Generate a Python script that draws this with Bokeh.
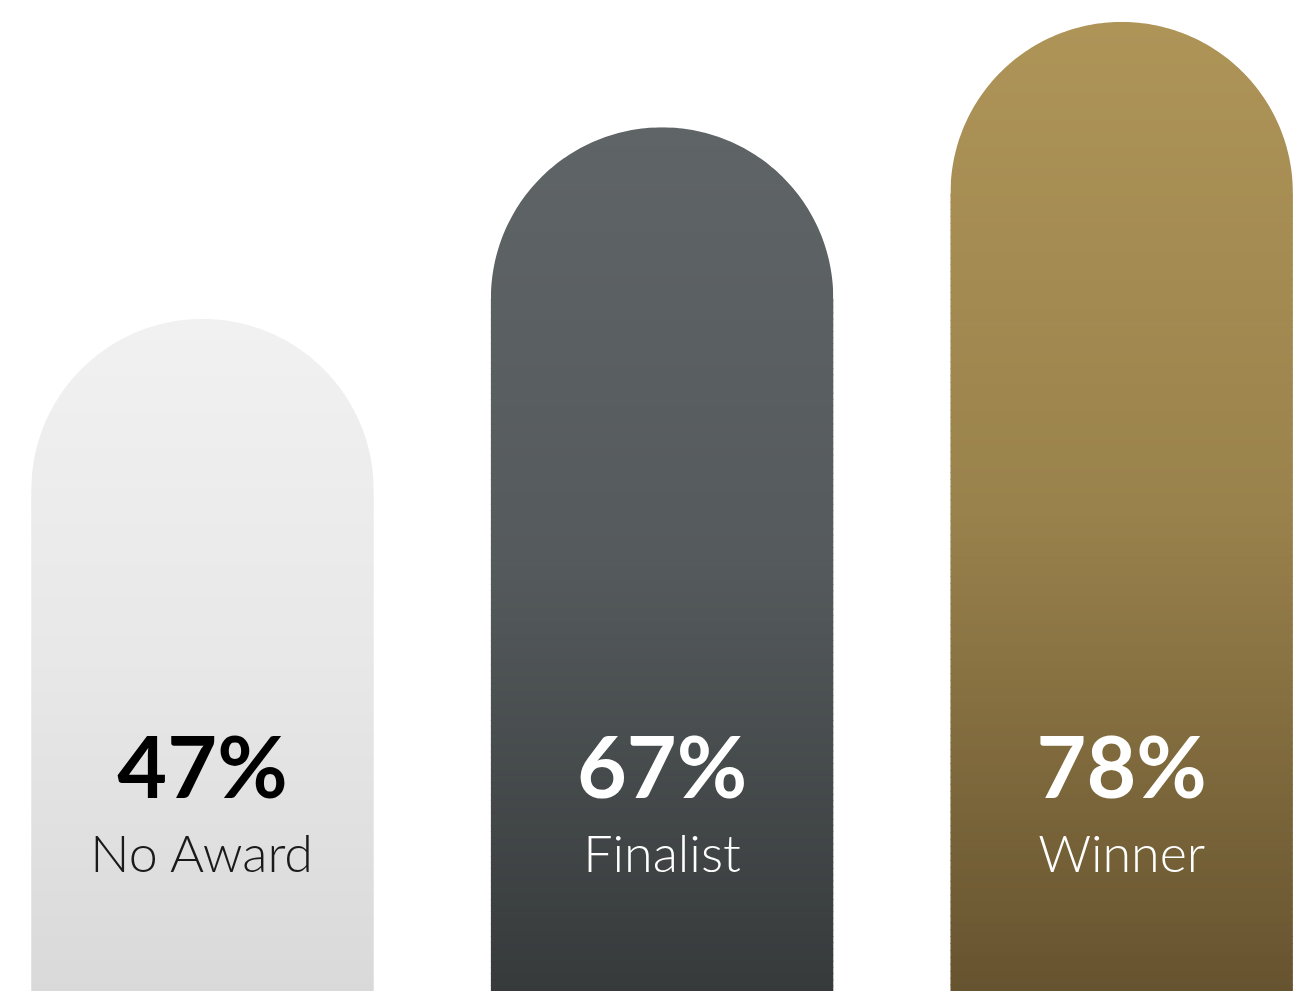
import numpy as np
from bokeh.plotting import figure
from bokeh.models import Range1d, Label, ColumnDataSource
from bokeh.embed import file_html
from bokeh.resources import INLINE

# ---- data ----
categories = ["No Award", "Finalist", "Winner"]
percent = [47, 67, 78]
pct_labels = ["47%", "67%", "78%"]

# ---- style ----
top_colors = ["#F1F1F1", "#5F6466", "#AE9457"]
mid_colors = ["#E8E8E8", "#555A5C", "#9A824C"]
bottom_colors = ["#D9D9D9", "#363A3B", "#66532F"]
pct_colors = ["#000000", "#FFFFFF", "#FFFFFF"]
name_colors = ["#1A1A1A", "#FFFFFF", "#FFFFFF"]

W, H = 1299, 991
X0, X1 = -0.4395, 2.3869
Y0, Y1 = -23.22, 80.24
BAR_W = 0.745
N_STRIPS = 140

sx = W / (X1 - X0)
sy = H / (Y1 - Y0)


def hex2rgb(h):
    h = h.lstrip("#")
    return np.array([int(h[i:i + 2], 16) for i in (0, 2, 4)], dtype=float)


def grad(t, c0, c1, c2):
    a, b, c = hex2rgb(c0), hex2rgb(c1), hex2rgb(c2)
    if t <= 0.5:
        col = a + (b - a) * (t / 0.5)
    else:
        col = b + (c - b) * ((t - 0.5) / 0.5)
    return "#%02x%02x%02x" % tuple(int(round(v)) for v in col)


p = figure(width=W, height=H, x_range=Range1d(X0, X1), y_range=Range1d(Y0, Y1),
           output_backend="svg", toolbar_location=None, min_border=0,
           x_axis_location=None, y_axis_location=None)
p.grid.visible = False
p.outline_line_color = None
p.background_fill_color = "white"
p.border_fill_color = "white"

# gradient strips
L, R, B, T, C = [], [], [], [], []
overlap = 1.0 / sy
for i, v in enumerate(percent):
    edges = np.linspace(Y0, v, N_STRIPS + 1)
    for j in range(N_STRIPS):
        mid = 0.5 * (edges[j] + edges[j + 1])
        t = (v - mid) / (v - Y0)
        L.append(i - BAR_W / 2)
        R.append(i + BAR_W / 2)
        B.append(edges[j] - overlap if j > 0 else edges[j])
        T.append(edges[j + 1])
        C.append(grad(t, top_colors[i], mid_colors[i], bottom_colors[i]))
src = ColumnDataSource(dict(left=L, right=R, bottom=B, top=T, color=C))
p.quad(left="left", right="right", bottom="bottom", top="top",
       fill_color="color", line_color=None, source=src)

# white corner masks -> semicircular caps
r_px = BAR_W * sx / 2
pad_x = 3 / sx
pad_y = 3 / sy
xs, ys = [], []
for i, v in enumerate(percent):
    cy = v - r_px / sy
    th = np.linspace(np.pi, np.pi / 2, 80)
    ax = list(i + r_px * np.cos(th) / sx)
    ay = list(cy + r_px * np.sin(th) / sy)
    xs.append([i - BAR_W / 2 - pad_x] + ax + [i, i - BAR_W / 2 - pad_x])
    ys.append([cy] + ay + [v + pad_y, v + pad_y])
    th2 = np.linspace(0, np.pi / 2, 80)
    bx = list(i + r_px * np.cos(th2) / sx)
    by = list(cy + r_px * np.sin(th2) / sy)
    xs.append([i + BAR_W / 2 + pad_x] + bx + [i, i + BAR_W / 2 + pad_x])
    ys.append([cy] + by + [v + pad_y, v + pad_y])
p.patches(xs, ys, fill_color="white", line_color=None)

# labels
for i in range(len(categories)):
    p.add_layout(Label(x=i, y=227, y_units="screen", text=pct_labels[i],
                       text_align="center", text_baseline="alphabetic",
                       text_font="Lato", text_font_style="bold",
                       text_font_size="86px", text_color=pct_colors[i]))
    p.add_layout(Label(x=i, y=140, y_units="screen", text=categories[i],
                       text_align="center", text_baseline="alphabetic",
                       text_font="Lato Light", text_font_style="normal",
                       text_font_size="52px", text_color=name_colors[i]))

open("out.html", "w").write(file_html(p, INLINE))
